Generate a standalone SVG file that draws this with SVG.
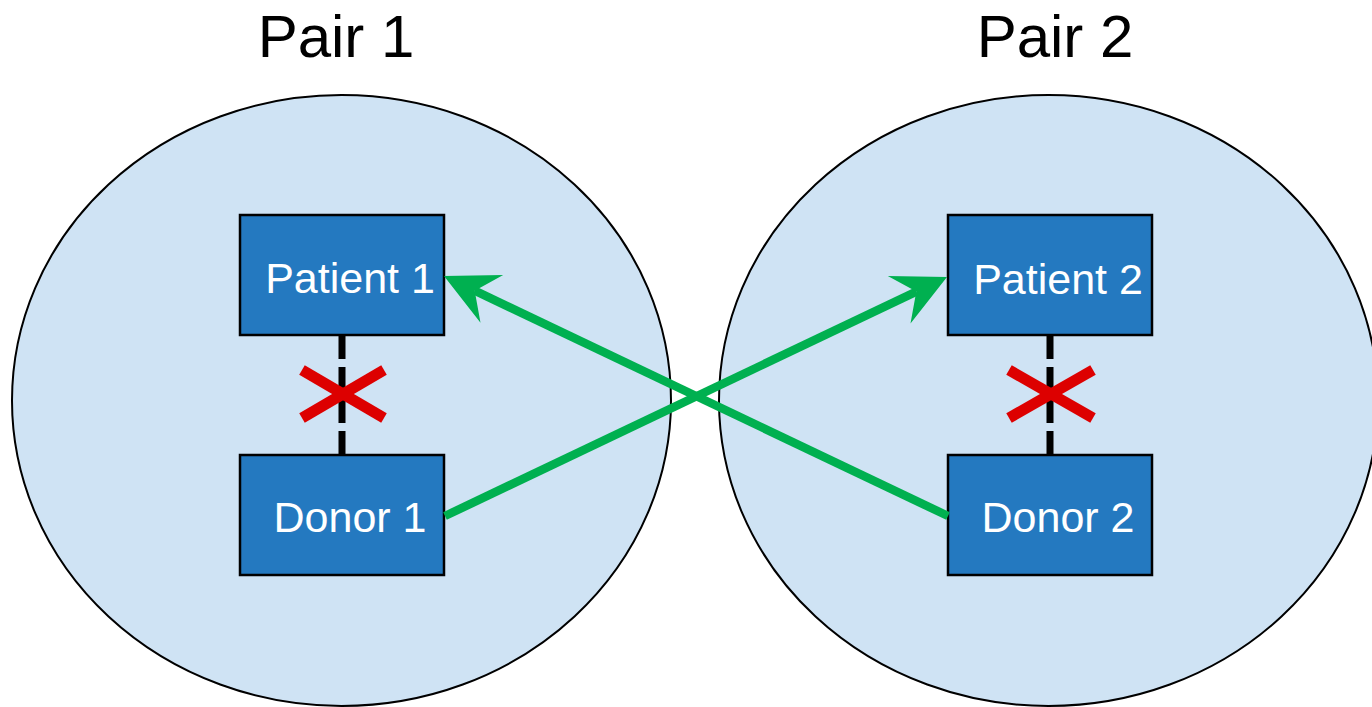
<svg xmlns="http://www.w3.org/2000/svg" width="1372" height="707" viewBox="0 0 1372 707">
  <style>
    .pair { fill: #CFE3F4; stroke: #000; stroke-width: 2; }
    .title { font-family: "Liberation Sans", Arial, sans-serif; font-size: 60px; fill: #000; text-anchor: middle; }
    .box { fill: #2479C0; stroke: #000; stroke-width: 2.5; }
    .label { font-family: "Liberation Sans", Arial, sans-serif; font-size: 43px; fill: #fff; text-anchor: middle; }
    .dash { stroke: #000; stroke-width: 7; stroke-dasharray: 24 8; fill: none; }
    .cross { stroke: #DD0000; stroke-width: 11; fill: none; }
    .arrow { stroke: #00B050; stroke-width: 8.5; fill: none; marker-end: url(#head); }
  </style>
  <defs>
    <marker id="head" markerUnits="userSpaceOnUse" orient="auto" refX="0" refY="0" markerWidth="120" markerHeight="120" overflow="visible">
      <path d="M34,0 L-19,-26.4 L0,0 L-19,26.4 Z" fill="#00B050"/>
    </marker>
  </defs>

  <rect x="0" y="0" width="1372" height="707" fill="#fff"/>

  <g id="pair1">
    <ellipse class="pair" cx="341.5" cy="400.5" rx="329.5" ry="305.5"/>
    <text class="title" x="336" y="57">Pair 1</text>
  </g>
  <g id="pair2">
    <ellipse class="pair" cx="1048.5" cy="400.5" rx="329.5" ry="305.5"/>
    <text class="title" x="1055" y="57">Pair 2</text>
  </g>

  <g id="patient1">
    <rect class="box" x="240" y="215" width="204" height="120"/>
    <text class="label" x="350" y="293">Patient 1</text>
  </g>
  <g id="donor1">
    <rect class="box" x="240" y="455" width="204" height="120"/>
    <text class="label" x="350" y="532">Donor 1</text>
  </g>
  <g id="patient2">
    <rect class="box" x="948" y="215" width="204" height="120"/>
    <text class="label" x="1058" y="294">Patient 2</text>
  </g>
  <g id="donor2">
    <rect class="box" x="948" y="455" width="204" height="120"/>
    <text class="label" x="1058" y="532">Donor 2</text>
  </g>

  <g id="connectors">
    <line class="dash" x1="342" y1="335" x2="342" y2="455"/>
    <line class="dash" x1="1050" y1="335" x2="1050" y2="455"/>
    <line class="arrow" x1="445" y1="516" x2="916.3" y2="291.6"/>
    <line class="arrow" x1="948" y1="516" x2="474.7" y2="290.7"/>
  </g>

  <g id="cross1">
    <line class="cross" x1="302" y1="370" x2="384" y2="418"/>
    <line class="cross" x1="384" y1="370" x2="302" y2="418"/>
  </g>
  <g id="cross2">
    <line class="cross" x1="1009" y1="370" x2="1093" y2="418"/>
    <line class="cross" x1="1093" y1="370" x2="1009" y2="418"/>
  </g>
</svg>
